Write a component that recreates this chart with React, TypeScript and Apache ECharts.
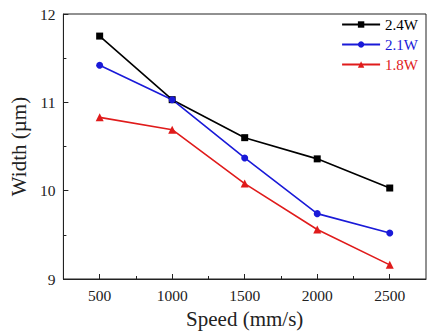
import React, { useEffect, useRef } from "react";
import * as echarts from "echarts";

const speeds = [500, 1000, 1500, 2000, 2500];
const w24 = [11.75, 11.03, 10.6, 10.36, 10.03];
const w21 = [11.42, 11.03, 10.37, 9.74, 9.52];
const w18 = [10.83, 10.69, 10.08, 9.56, 9.16];
const majorX = [500, 1000, 1500, 2000, 2500];
const minorX = [750, 1250, 1750, 2250];
const seriesNames = ["2.4W", "2.1W", "1.8W"];
const colors = ["#000000", "#1a1ad8", "#e01b1b"];

const FONT = "Liberation Serif";

export default function App() {
  const ref = useRef<HTMLDivElement>(null);
  useEffect(() => {
    document.body.style.margin = "0";
    if (!ref.current) return;
    const chart = echarts.init(ref.current, undefined, { renderer: "svg" });
    const mk = (vals: number[]) => vals.map((v, i) => [speeds[i], v]);
    const datasets = [w24, w21, w18];
    const symbols = ["rect", "circle", "triangle"];
    chart.setOption({
      animation: false,
      textStyle: { fontFamily: FONT },
      grid: {
        left: 62,
        right: 11,
        top: 14,
        bottom: 54,
        show: true,
        borderColor: "#222",
        borderWidth: 1,
        backgroundColor: "transparent",
      },
      legend: {
        orient: "vertical",
        right: 14,
        top: 12,
        itemWidth: 38,
        itemHeight: 8,
        itemGap: 5,
        data: seriesNames.map((n, i) => ({
          name: n,
          textStyle: { color: colors[i], fontFamily: FONT, fontSize: 15 },
        })),
        textStyle: { fontFamily: FONT, fontSize: 15 },
      },
      xAxis: [
        {
          type: "value",
          min: 250,
          max: 2750,
          name: "Speed (mm/s)",
          nameLocation: "middle",
          nameGap: 29,
          nameTextStyle: { fontFamily: FONT, fontSize: 21, color: "#222" },
          axisLine: { show: true, lineStyle: { color: "#222", width: 1 } },
          axisTick: {
            show: true,
            inside: true,
            length: 5,
            customValues: majorX,
            lineStyle: { color: "#222" },
          },
          axisLabel: {
            customValues: majorX,
            formatter: (v: number) => String(v),
            fontFamily: FONT,
            fontSize: 15.5,
            color: "#222",
            margin: 8,
          },
          splitLine: { show: false },
        },
        {
          type: "value",
          min: 250,
          max: 2750,
          position: "bottom",
          axisLine: { show: false },
          axisTick: {
            show: true,
            inside: true,
            length: 3,
            customValues: minorX,
            lineStyle: { color: "#222" },
          },
          axisLabel: { show: false },
          splitLine: { show: false },
        },
      ],
      yAxis: {
        type: "value",
        min: 9,
        max: 12,
        interval: 1,
        name: "Width (\u00b5m)",
        nameLocation: "middle",
        nameGap: 32,
        nameTextStyle: { fontFamily: FONT, fontSize: 21, color: "#222" },
        axisLine: { show: true, lineStyle: { color: "#222", width: 1 } },
        axisTick: { show: true, inside: true, length: 5, lineStyle: { color: "#222" } },
        minorTick: { show: true, splitNumber: 2, length: 3, lineStyle: { color: "#222" } },
        axisLabel: { fontFamily: FONT, fontSize: 15.5, color: "#222", margin: 8 },
        splitLine: { show: false },
        minorSplitLine: { show: false },
      },
      series: datasets.map((d, i) => ({
        name: seriesNames[i],
        type: "line",
        xAxisIndex: 0,
        data: mk(d),
        symbol: symbols[i],
        symbolSize: i === 2 ? 8 : 7,
        lineStyle: { color: colors[i], width: 1.6 },
        itemStyle: { color: colors[i] },
      })),
    });
    return () => chart.dispose();
  }, []);
  return <div ref={ref} style={{ width: 437, height: 334 }} />;
}
